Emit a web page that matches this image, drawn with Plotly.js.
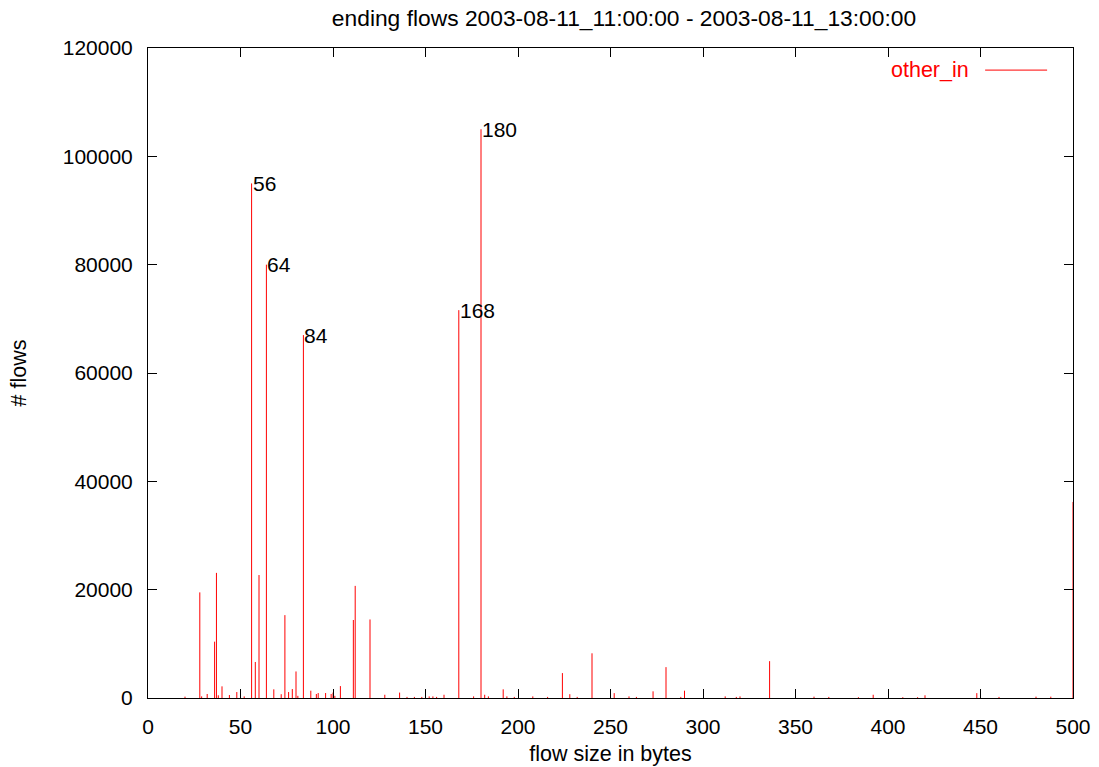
<!DOCTYPE html>
<html>
<head>
<meta charset="utf-8">
<script src="https://cdn.plot.ly/plotly-3.0.1.min.js"></script>
<style>html,body{margin:0;padding:0;background:#fff;}#chart{width:1099px;height:767px;}</style>
</head>
<body>
<div id="chart"></div>
<script>
// flow size in bytes
const flowSizes = [20, 28, 29, 32, 36, 37, 38, 40, 44, 48, 52, 56, 58, 60, 64, 68, 72, 74, 76, 78, 80, 81, 84, 88, 91, 92, 96, 99, 100, 101, 104, 111, 112, 120, 128, 136, 140, 144, 148, 152, 154, 156, 160, 168, 176, 180, 182, 184, 192, 194, 198, 208, 216, 224, 228, 232, 240, 252, 260, 264, 273, 280, 288, 290, 312, 318, 320, 336, 360, 368, 384, 392, 408, 416, 420, 448, 460, 480, 488, 500];
// number of flows (other_in)
const flowCounts = [250, 19500, 300, 740, 10400, 23100, 500, 2150, 550, 1100, 300, 95000, 6650, 22700, 80000, 1600, 700, 15300, 1100, 1650, 4900, 400, 67000, 1350, 740, 920, 920, 740, 1000, 400, 2200, 14400, 20700, 14500, 600, 1000, 200, 200, 200, 300, 300, 200, 600, 71600, 300, 105000, 600, 300, 1600, 300, 200, 300, 200, 4600, 700, 200, 8250, 900, 300, 200, 1230, 5700, 200, 1350, 300, 200, 300, 6800, 250, 200, 150, 600, 150, 150, 500, 900, 200, 250, 250, 36200];
// labelled peaks
const peakSizes = [56, 64, 84, 168, 180];
const seriesName = "other_in";
const xTicks = [0, 50, 100, 150, 200, 250, 300, 350, 400, 450, 500];
const yTicks = [0, 20000, 40000, 60000, 80000, 100000, 120000];
const yTickLabels = ["0", "20000", "40000", "60000", "80000", "100000", "120000"];

// impulses built from data
const ix = [], iy = [];
flowSizes.forEach((s, i) => { ix.push(s, s, null); iy.push(0, flowCounts[i], null); });

const FONT = "Liberation Sans, Arial, sans-serif";
const annotations = peakSizes.map(p => ({
  x: p, y: flowCounts[flowSizes.indexOf(p)], xref: "x", yref: "y",
  text: String(p), showarrow: false, xanchor: "left", yanchor: "middle",
  xshift: -1, font: {family: FONT, size: 21, color: "#000"}
}));
annotations.push({
  x: 0.8897, y: 0.966, xref: "paper", yref: "paper", text: seriesName,
  showarrow: false, xanchor: "right", yanchor: "middle",
  font: {family: FONT, size: 21.5, color: "#ff0000"}
});

const trace = {
  type: "scatter", mode: "lines", x: ix, y: iy, name: seriesName,
  line: {color: "#ff0000", width: 1}, connectgaps: false, hoverinfo: "skip"
};

const axisCommon = {
  showline: true, linecolor: "#000", linewidth: 1, mirror: "ticks",
  ticks: "inside", ticklen: 9, tickwidth: 1, tickcolor: "#000",
  showgrid: false, zeroline: false, tickmode: "array",
  tickfont: {family: FONT, size: 21, color: "#000"}
};

const layout = {
  width: 1099, height: 767,
  margin: {l: 148, r: 26, t: 48, b: 69},
  paper_bgcolor: "#fff", plot_bgcolor: "#fff",
  showlegend: false,
  title: {text: "ending flows 2003-08-11_11:00:00 - 2003-08-11_13:00:00",
    x: 0.5146, xref: "paper", xanchor: "center", y: 0.9765, yref: "container", yanchor: "middle",
    font: {family: FONT, size: 22.8, color: "#000"}},
  xaxis: Object.assign({}, axisCommon, {range: [0, 500], tickvals: xTicks, ticklabelstandoff: 10,
    title: {text: "flow size in bytes", font: {family: FONT, size: 21.5, color: "#000"}, standoff: 8}}),
  yaxis: Object.assign({}, axisCommon, {range: [0, 120000], tickvals: yTicks, ticktext: yTickLabels, ticklabelstandoff: 10,
    title: {text: "# flows", font: {family: FONT, size: 21.5, color: "#000"}, standoff: 30}}),
  annotations: annotations,
  shapes: [{type: "line", xref: "paper", yref: "paper", x0: 0.905, x1: 0.972, y0: 0.966, y1: 0.966,
    line: {color: "#ff0000", width: 1}}]
};

Plotly.newPlot("chart", [trace], layout, {displayModeBar: false, staticPlot: true});
</script>
</body>
</html>
